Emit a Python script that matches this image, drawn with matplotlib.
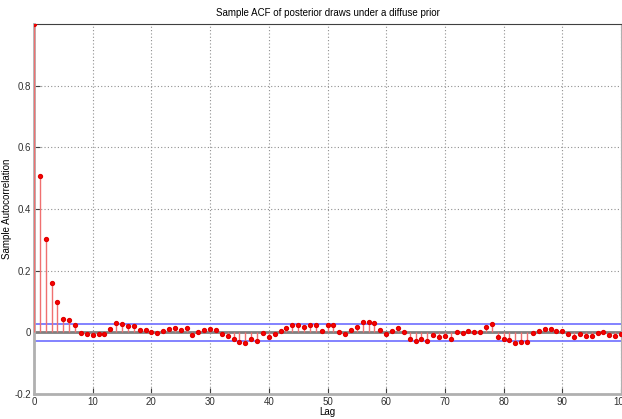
import matplotlib.pyplot as plt
import numpy as np

# sample autocorrelation at lags 0..100
acf = [1.0, 0.508, 0.304, 0.161, 0.097, 0.042, 0.039, 0.023, -0.001, -0.004,
       -0.008, -0.006, -0.006, 0.012, 0.031, 0.028, 0.019, 0.019, 0.007, 0.006,
       0.002, -0.002, 0.004, 0.012, 0.015, 0.009, 0.013, -0.010, 0.002, 0.009,
       0.012, 0.009, -0.006, -0.011, -0.023, -0.030, -0.036, -0.020, -0.028, -0.001,
       -0.015, -0.004, 0.004, 0.015, 0.024, 0.023, 0.017, 0.023, 0.023, 0.004,
       0.023, 0.023, 0.001, -0.004, 0.007, 0.017, 0.034, 0.032, 0.031, 0.008,
       -0.005, 0.004, 0.015, 0.001, -0.020, -0.028, -0.022, -0.028, -0.009, -0.016,
       -0.012, -0.022, 0.001, -0.001, 0.004, 0.002, 0.000, 0.017, 0.028, -0.015,
       -0.023, -0.024, -0.033, -0.032, -0.030, -0.001, 0.004, 0.012, 0.012, 0.004,
       0.004, -0.007, -0.015, -0.007, -0.012, -0.011, -0.001, 0.000, -0.008, -0.012,
       -0.005]
lags = np.arange(len(acf))
conf_bound = 0.028

yticks = [-0.2, 0, 0.2, 0.4, 0.6, 0.8]
yticklabels = ['-0.2', '0', '0.2', '0.4', '0.6', '0.8']
xticks = list(range(0, 101, 10))

plt.rcParams['font.family'] = ['Liberation Sans Narrow', 'Liberation Sans', 'DejaVu Sans']

fig = plt.figure(figsize=(6.22, 4.19), dpi=100)
ax = fig.add_axes([34 / 622, 1 - 394 / 419, 587 / 622, 370 / 419])

# stems, markers and zero line
ax.vlines(lags, 0, acf, color='#f07070', lw=1.0, zorder=3)
ax.plot(lags, acf, 'o', color='#ff0000', ms=2.8, mec='#e00000', zorder=4)
ax.axhline(0, color='#808080', lw=2, zorder=2)

# confidence bounds
ax.plot([0, 100], [conf_bound, conf_bound], color='#7878ff', lw=1.3, zorder=2)
ax.plot([0, 100], [-conf_bound, -conf_bound], color='#7878ff', lw=1.3, zorder=2)

ax.set_xlim(0, 100)
ax.set_ylim(-0.2, 1.0)
ax.set_xticks(xticks)
ax.set_yticks(yticks)
ax.set_yticklabels(yticklabels)
ax.tick_params(labelsize=7, direction='in', length=4, color='#404040',
               labelcolor='#303030', pad=2)
ax.grid(True, linestyle=(0, (1, 2)), color='#909090', lw=0.8)

for side in ['left', 'bottom']:
    ax.spines[side].set_color('#b0b0b0')
    ax.spines[side].set_linewidth(2)
ax.spines['top'].set_color('#404040')
ax.spines['right'].set_color('#b0b0b0')

ax.set_title('Sample ACF of posterior draws under a diffuse prior', fontsize=7, pad=6)
ax.set_xlabel('Lag', fontsize=7)
ax.xaxis.set_label_coords(0.5, -0.036)
ax.set_ylabel('Sample Autocorrelation', fontsize=7)
ax.yaxis.set_label_coords(-0.038, 0.5)

fig.savefig('out.png', dpi=100)
